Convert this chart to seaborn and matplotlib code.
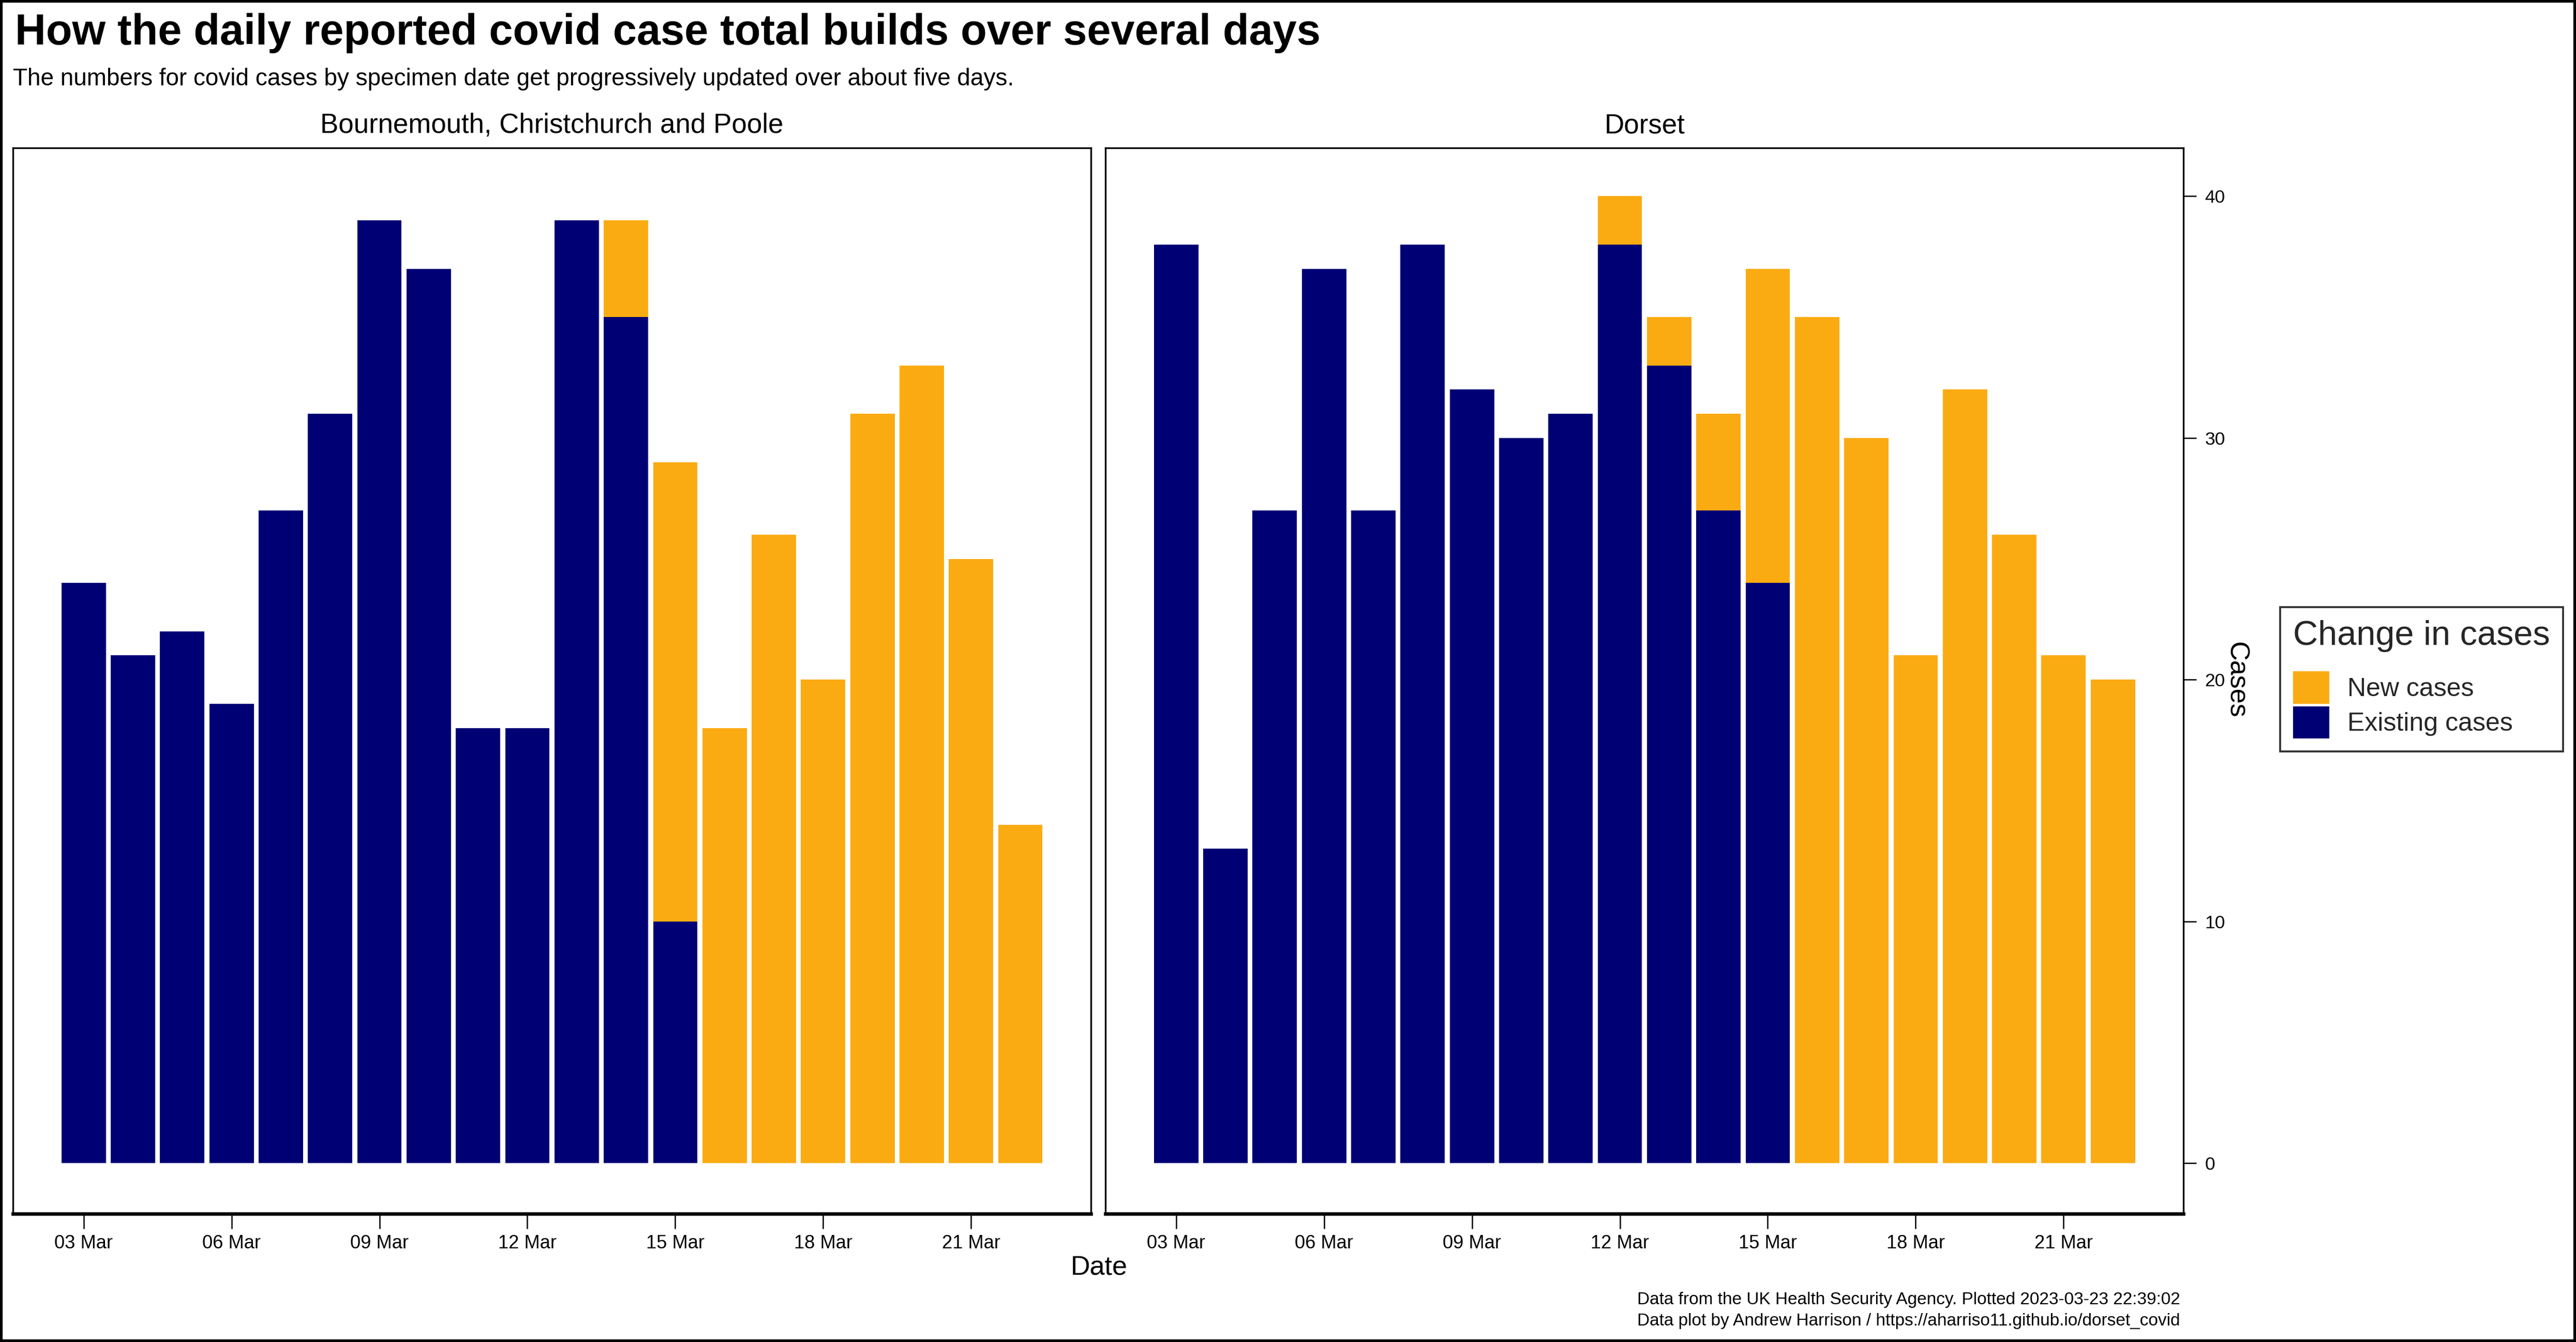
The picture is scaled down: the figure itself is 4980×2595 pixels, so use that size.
import numpy as np
import pandas as pd
import matplotlib
matplotlib.use("Agg")
import matplotlib.pyplot as plt
from matplotlib.patches import Patch, Rectangle
import seaborn as sns

# ---------------- data ----------------
days = list(range(3, 23))  # 03 Mar .. 22 Mar 2023
areas = ["Bournemouth, Christchurch and Poole", "Dorset"]
bcp_existing = [24, 21, 22, 19, 27, 31, 39, 37, 18, 18, 39, 35, 10, 0, 0, 0, 0, 0, 0, 0]
bcp_new = [0, 0, 0, 0, 0, 0, 0, 0, 0, 0, 0, 4, 19, 18, 26, 20, 31, 33, 25, 14]
dorset_existing = [38, 13, 27, 37, 27, 38, 32, 30, 31, 38, 33, 27, 24, 0, 0, 0, 0, 0, 0, 0]
dorset_new = [0, 0, 0, 0, 0, 0, 0, 0, 0, 2, 2, 4, 13, 35, 30, 21, 32, 26, 21, 20]
tick_days = [3, 6, 9, 12, 15, 18, 21]
tick_labels = ["03 Mar", "06 Mar", "09 Mar", "12 Mar", "15 Mar", "18 Mar", "21 Mar"]
y_ticks = [0, 10, 20, 30, 40]
legend_labels = ["New cases", "Existing cases"]

title = "How the daily reported covid case total builds over several days"
subtitle = "The numbers for covid cases by specimen date get progressively updated over about five days."
caption1 = "Data from the UK Health Security Agency. Plotted 2023-03-23 22:39:02"
caption2 = "Data plot by Andrew Harrison / https://aharriso11.github.io/dorset_covid"

NEW_COL = "#FBAB12"
OLD_COL = "#000075"

sns.set_theme(style="white")
plt.rcParams["font.family"] = ["Liberation Sans", "DejaVu Sans"]

W, H = 4980, 2595
DPI = 300
fig = plt.figure(figsize=(W / DPI, H / DPI), dpi=DPI)
fig.patch.set_facecolor("white")

DW, DH = 1568.0, 817.0  # reference display coordinates


def fx(x):
    return x / DW


def fy(y):
    return 1 - y / DH


panel_x = [(8, 664), (673, 1329)]
ptop, pbot = 90, 739

data_sets = [(bcp_existing, bcp_new), (dorset_existing, dorset_new)]
axes = []
for i, (area, (ex, nw)) in enumerate(zip(areas, data_sets)):
    x0, x1 = panel_x[i]
    ax = fig.add_axes([fx(x0), fy(pbot), fx(x1) - fx(x0), fy(ptop) - fy(pbot)])
    df = pd.DataFrame({"day": days, "existing": ex, "new": nw})
    df["total"] = df["existing"] + df["new"]
    dn = df[df["new"] > 0]
    de = df[df["existing"] > 0]
    sns.barplot(data=dn, x="day", y="total", native_scale=True, width=0.9,
                color=NEW_COL, saturation=1, linewidth=0, ax=ax, errorbar=None)
    sns.barplot(data=de, x="day", y="existing", native_scale=True, width=0.9,
                color=OLD_COL, saturation=1, linewidth=0, ax=ax, errorbar=None)
    ax.set_xlim(days[0] - 1.43, days[-1] + 1.43)
    ax.set_ylim(-2.1, 42.0)
    ax.set_xticks(tick_days)
    ax.set_xticklabels(tick_labels, fontsize=8.7)
    ax.set_xlabel("")
    ax.set_ylabel("")
    for s in ax.spines.values():
        s.set_visible(True)
        s.set_color("black")
        s.set_linewidth(0.8)
    ax.spines["bottom"].set_linewidth(1.6)
    ax.tick_params(axis="x", which="major", bottom=True, length=7, width=0.6,
                   color="black", pad=2.5, labelcolor="black")
    if i == 0:
        ax.set_yticks([])
    else:
        ax.yaxis.tick_right()
        ax.set_yticks(y_ticks)
        ax.set_yticklabels([str(v) for v in y_ticks], fontsize=8.5)
        ax.tick_params(axis="y", which="major", right=True, left=False, length=6,
                       width=0.6, color="black", pad=4, labelcolor="black")
    ax.grid(False)
    ax.set_facecolor("white")
    fig.text((fx(x0) + fx(x1)) / 2, fy(81), area, ha="center", va="baseline",
             fontsize=12.7, color="black")
    axes.append(ax)

fig.text(fx(9), fy(27), title, ha="left", va="baseline", fontsize=19.9,
         fontweight="bold", color="black")
fig.text(fx(8), fy(52), subtitle, ha="left", va="baseline", fontsize=11,
         color="black")
fig.text(fx(669), fy(776), "Date", ha="center", va="baseline", fontsize=12.5,
         color="black")
fig.text(fx(1361), fy(414), "Cases", ha="center", va="center", rotation=270,
         fontsize=12.5, color="black")
fig.text(fx(1327), fy(794), caption1, ha="right", va="baseline", fontsize=8,
         color="black")
fig.text(fx(1327), fy(807), caption2, ha="right", va="baseline", fontsize=8,
         color="black")

handles = [Patch(facecolor=NEW_COL, edgecolor="none"),
           Patch(facecolor=OLD_COL, edgecolor="none")]
leg = fig.legend(handles, legend_labels, loc="center left",
                 bbox_to_anchor=(fx(1388), fy(413.5)), title="Change in cases",
                 fontsize=12, title_fontsize=16, frameon=True, fancybox=False,
                 edgecolor="black", handlelength=1.4, handleheight=1.55,
                 labelspacing=0.1, handletextpad=0.7, borderpad=0.5,
                 alignment="left", borderaxespad=0)
leg.get_frame().set_linewidth(0.9)
try:
    leg._legend_box.sep = 9
except Exception:
    pass

fig.add_artist(Rectangle((0.0005, 0.0008), 0.999, 0.9984, transform=fig.transFigure,
                         fill=False, edgecolor="black", linewidth=1.5))

fig.savefig("out.png", dpi=DPI, facecolor="white")
